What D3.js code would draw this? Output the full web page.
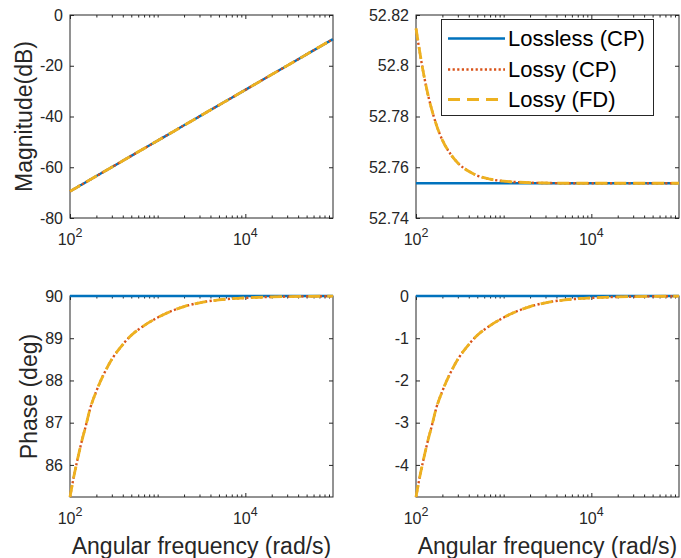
<!DOCTYPE html>
<html>
<head>
<meta charset="utf-8">
<script src="https://cdn.jsdelivr.net/npm/d3@7/dist/d3.min.js"></script>
<style>
  html, body { margin: 0; padding: 0; background: #fff; }
  svg { display: block; }
  text { font-family: "Liberation Sans", Arial, Helvetica, sans-serif; }
</style>
</head>
<body>
<svg id="chart" width="681" height="558"></svg>
<script>
// ---------- data ----------
const omega = [100, 110, 120, 130, 140, 150, 170, 200, 250, 300, 400, 500, 700, 1000, 1500, 2000, 3000, 5000, 7000, 10000, 20000, 50000, 100000];

const magLossless = [-69.5, -68.67, -67.92, -67.22, -66.58, -65.98, -64.89, -63.48, -61.54, -59.96, -57.46, -55.52, -52.60, -49.5, -45.98, -43.48, -39.96, -35.52, -32.60, -29.5, -23.48, -15.52, -9.5];
const magLossyCP  = [-69.5, -68.67, -67.92, -67.22, -66.58, -65.98, -64.89, -63.48, -61.54, -59.96, -57.46, -55.52, -52.60, -49.5, -45.98, -43.48, -39.96, -35.52, -32.60, -29.5, -23.48, -15.52, -9.5];
const magLossyFD  = [-69.5, -68.67, -67.92, -67.22, -66.58, -65.98, -64.89, -63.48, -61.54, -59.96, -57.46, -55.52, -52.60, -49.5, -45.98, -43.48, -39.96, -35.52, -32.60, -29.5, -23.48, -15.52, -9.5];

const zLossless = [52.7537, 52.7537, 52.7537, 52.7537, 52.7537, 52.7537, 52.7537, 52.7537, 52.7537, 52.7537, 52.7537, 52.7537, 52.7537, 52.7537, 52.7537, 52.7537, 52.7537, 52.7537, 52.7537, 52.7537, 52.7537, 52.7537, 52.7537];
const zLossyCP  = [52.8145, 52.8057, 52.7982, 52.7922, 52.7872, 52.7832, 52.7769, 52.7707, 52.7650, 52.7617, 52.7584, 52.7567, 52.7553, 52.7545, 52.7541, 52.7539, 52.7538, 52.7537, 52.7537, 52.7537, 52.7537, 52.7537, 52.7537];
const zLossyFD  = [52.8148, 52.8058, 52.7982, 52.7922, 52.7872, 52.7832, 52.7769, 52.7707, 52.7650, 52.7617, 52.7584, 52.7567, 52.7553, 52.7545, 52.7541, 52.7539, 52.7538, 52.7537, 52.7537, 52.7537, 52.7537, 52.7537, 52.7537];

const phaseLossless = [90, 90, 90, 90, 90, 90, 90, 90, 90, 90, 90, 90, 90, 90, 90, 90, 90, 90, 90, 90, 90, 90, 90];
const phaseLossyCP  = [85.24, 85.70, 86.07, 86.39, 86.66, 86.89, 87.34, 87.75, 88.20, 88.50, 88.85, 89.07, 89.30, 89.49, 89.66, 89.75, 89.84, 89.908, 89.935, 89.955, 89.978, 89.991, 89.995];
const phaseLossyFD  = [85.24, 85.70, 86.07, 86.39, 86.66, 86.89, 87.34, 87.75, 88.20, 88.50, 88.85, 89.07, 89.30, 89.49, 89.66, 89.75, 89.84, 89.908, 89.935, 89.955, 89.978, 89.991, 89.995];

const dphLossless = [0, 0, 0, 0, 0, 0, 0, 0, 0, 0, 0, 0, 0, 0, 0, 0, 0, 0, 0, 0, 0, 0, 0];
const dphLossyCP  = [-4.76, -4.30, -3.93, -3.61, -3.34, -3.11, -2.66, -2.25, -1.80, -1.50, -1.15, -0.93, -0.70, -0.51, -0.34, -0.25, -0.16, -0.092, -0.065, -0.045, -0.022, -0.009, -0.005];
const dphLossyFD  = [-4.76, -4.30, -3.93, -3.61, -3.34, -3.11, -2.66, -2.25, -1.80, -1.50, -1.15, -0.93, -0.70, -0.51, -0.34, -0.25, -0.16, -0.092, -0.065, -0.045, -0.022, -0.009, -0.005];

const seriesNames = ["Lossless (CP)", "Lossy (CP)", "Lossy (FD)"];
const xDomain = [100, 100000];
const xTickValues = [100, 10000];
const xTickExps = ["2", "4"];

const yTicksTL = [-80, -60, -40, -20, 0];
const yTickLabelsTL = ["-80", "-60", "-40", "-20", "0"];
const yTicksTR = [52.74, 52.76, 52.78, 52.8, 52.82];
const yTickLabelsTR = ["52.74", "52.76", "52.78", "52.8", "52.82"];
const yTicksBL = [86, 87, 88, 89, 90];
const yTickLabelsBL = ["86", "87", "88", "89", "90"];
const yTicksBR = [-4, -3, -2, -1, 0];
const yTickLabelsBR = ["-4", "-3", "-2", "-1", "0"];

// ---------- styling ----------
const colors = ["#0072BD", "#D95319", "#EDB120"];
const widths = [2.4, 2.4, 2.8];
const dashes = [null, "2.2,2.4", "12,7"];
const axisColor = "#262626";

const svg = d3.select("#chart");
svg.append("rect").attr("width", 681).attr("height", 558).attr("fill", "#fff");

const panels = [
  { x0: 70,  x1: 333, y0: 15,  y1: 218, yDom: [-80, 0], yTicks: yTicksTL, yLabels: yTickLabelsTL, series: [magLossless, magLossyCP, magLossyFD], ylabel: "Magnitude(dB)", ylabelX: 32, xlabel: false, legend: false },
  { x0: 416, x1: 679, y0: 15,  y1: 218, yDom: [52.74, 52.82], yTicks: yTicksTR, yLabels: yTickLabelsTR, series: [zLossless, zLossyCP, zLossyFD], ylabel: null, xlabel: false, legend: true },
  { x0: 70,  x1: 333, y0: 296, y1: 497, yDom: [85.24, 90], yTicks: yTicksBL, yLabels: yTickLabelsBL, series: [phaseLossless, phaseLossyCP, phaseLossyFD], ylabel: "Phase (deg)", ylabelX: 36.5, xlabel: true, legend: false },
  { x0: 416, x1: 679, y0: 296, y1: 497, yDom: [-4.76, 0], yTicks: yTicksBR, yLabels: yTickLabelsBR, series: [dphLossless, dphLossyCP, dphLossyFD], ylabel: null, xlabel: true, legend: false }
];

// minor ticks on log axis
const minorTicks = [];
[100, 1000, 10000].forEach(d => { for (let k = 2; k <= 9; k++) minorTicks.push(d * k); });
minorTicks.push(1000);

panels.forEach(p => {
  const x = d3.scaleLog().domain(xDomain).range([p.x0, p.x1]);
  const y = d3.scaleLinear().domain(p.yDom).range([p.y1, p.y0]);
  const g = svg.append("g");

  // frame
  g.append("rect")
    .attr("x", p.x0).attr("y", p.y0)
    .attr("width", p.x1 - p.x0).attr("height", p.y1 - p.y0)
    .attr("fill", "#fff").attr("stroke", axisColor).attr("stroke-width", 1);

  // left axis with labels
  const ax = g.append("g").attr("transform", `translate(${p.x0},0)`)
    .call(d3.axisLeft(y).tickValues(p.yTicks).tickSizeInner(-4).tickSizeOuter(0).tickPadding(7)
      .tickFormat((d, i) => p.yLabels[i]));
  ax.select(".domain").remove();
  ax.selectAll("line").attr("stroke", axisColor);
  ax.selectAll("text").attr("font-size", 16).attr("fill", axisColor)
    .attr("font-family", '"Liberation Sans", Arial, Helvetica, sans-serif');

  // right mirrored ticks
  const ar = g.append("g").attr("transform", `translate(${p.x1},0)`)
    .call(d3.axisRight(y).tickValues(p.yTicks).tickSizeInner(-4).tickSizeOuter(0).tickFormat(""));
  ar.select(".domain").remove();
  ar.selectAll("line").attr("stroke", axisColor);

  // bottom major + minor ticks
  const ab = g.append("g").attr("transform", `translate(0,${p.y1})`)
    .call(d3.axisBottom(x).tickValues(xTickValues).tickSizeInner(-4).tickSizeOuter(0).tickFormat(""));
  ab.select(".domain").remove();
  ab.selectAll("line").attr("stroke", axisColor);
  const abm = g.append("g").attr("transform", `translate(0,${p.y1})`)
    .call(d3.axisBottom(x).tickValues(minorTicks).tickSizeInner(-2.5).tickSizeOuter(0).tickFormat(""));
  abm.select(".domain").remove();
  abm.selectAll("line").attr("stroke", axisColor);

  // top mirrored ticks
  const at = g.append("g").attr("transform", `translate(0,${p.y0})`)
    .call(d3.axisTop(x).tickValues(xTickValues).tickSizeInner(-4).tickSizeOuter(0).tickFormat(""));
  at.select(".domain").remove();
  at.selectAll("line").attr("stroke", axisColor);
  const atm = g.append("g").attr("transform", `translate(0,${p.y0})`)
    .call(d3.axisTop(x).tickValues(minorTicks).tickSizeInner(-2.5).tickSizeOuter(0).tickFormat(""));
  atm.select(".domain").remove();
  atm.selectAll("line").attr("stroke", axisColor);

  // x tick labels with superscript exponents
  xTickValues.forEach((v, i) => {
    const t = g.append("text")
      .attr("x", x(v)).attr("y", p.y1 + 26.5)
      .attr("text-anchor", "middle").attr("fill", axisColor).attr("font-size", 16);
    t.append("tspan").text("10");
    t.append("tspan").attr("dy", -8).attr("font-size", 12.5).text(xTickExps[i]);
  });

  // data lines
  const line = d3.line().x((d, i) => x(omega[i])).y(d => y(d)).curve(d3.curveMonotoneX);
  p.series.forEach((s, k) => {
    g.append("path").datum(s)
      .attr("d", line)
      .attr("fill", "none")
      .attr("stroke", colors[k])
      .attr("stroke-width", widths[k])
      .attr("stroke-dasharray", dashes[k])
      .attr("stroke-linejoin", "round");
  });

  // y label
  if (p.ylabel) {
    const cy = (p.y0 + p.y1) / 2;
    g.append("text")
      .attr("transform", `translate(${p.ylabelX},${cy}) rotate(-90)`)
      .attr("text-anchor", "middle").attr("font-size", 23).attr("fill", axisColor)
      .text(p.ylabel);
  }
  // x label
  if (p.xlabel) {
    g.append("text")
      .attr("x", (p.x0 + p.x1) / 2).attr("y", 554)
      .attr("text-anchor", "middle").attr("font-size", 23).attr("fill", axisColor)
      .text("Angular frequency (rad/s)");
  }

  // legend
  if (p.legend) {
    const lg = g.append("g");
    lg.append("rect").attr("x", 441.5).attr("y", 19.5).attr("width", 212).attr("height", 96)
      .attr("fill", "#fff").attr("stroke", axisColor).attr("stroke-width", 1);
    const rowsY = [38.5, 69.5, 99.5];
    seriesNames.forEach((name, k) => {
      lg.append("line").attr("x1", 448).attr("x2", 505).attr("y1", rowsY[k]).attr("y2", rowsY[k])
        .attr("stroke", colors[k]).attr("stroke-width", widths[k]).attr("stroke-dasharray", dashes[k]);
      lg.append("text").attr("x", 508).attr("y", rowsY[k]).attr("dy", "0.36em")
        .attr("font-size", 22).attr("fill", "#000").text(name);
    });
  }
});
</script>
</body>
</html>
